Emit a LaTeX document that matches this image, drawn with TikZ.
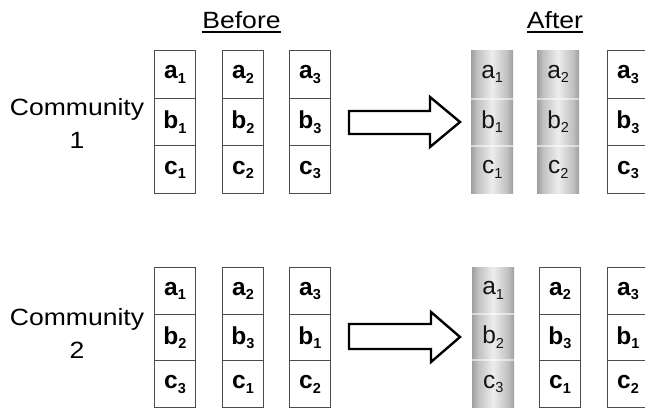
\documentclass[tikz,border=0pt]{standalone}
\usepackage{fontspec}
\setmainfont{Liberation Sans}
\newfontfamily\widefont{Liberation Sans}[FakeStretch=1.13]
\pgfdeclarehorizontalshading{cyl}{100bp}{color(0bp)=(black!32); color(14bp)=(black!58); color(32bp)=(black!25); color(50bp)=(black!7); color(68bp)=(black!25); color(86bp)=(black!58); color(100bp)=(black!32)}
\newcommand\sbs[1]{\raisebox{-4.5pt}{\fontsize{14.5}{14.5}\selectfont #1}}
\newcommand\thickul[1]{\vtop{\hbox{#1}\kern2.6pt\hrule height 1.8pt}}
\begin{document}
\begin{tikzpicture}[x=1pt,y=-1pt,
  cell/.style={draw=black!70, line width=1pt, minimum width=41pt, minimum height=#1, inner sep=0pt, anchor=north west, font=\fontsize{24.5}{24.5}\selectfont\bfseries},
  cell/.default=47.7pt,
  scell/.style={minimum width=42pt, minimum height=#1, inner sep=0pt, anchor=north west, font=\fontsize{24.5}{24.5}\selectfont, text=black!92},
  scell/.default=47.7pt,
  cyl/.style={shading=cyl},
  seam/.style={white, opacity=0.55, line width=2pt},
  title/.style={font=\widefont\fontsize{23.5}{23.5}\selectfont},
  comm/.style={font=\widefont\fontsize{23.5}{33}\selectfont, align=center},
  bigarrow/.style={draw=black, line width=2.4pt, fill=white, line join=miter}]
\useasboundingbox (0,0) rectangle (645,409);

% titles
\node[title, anchor=base] (before) at (241.5,28.3) {\thickul{Before}};
\node[title, anchor=base] (after) at (555,28.3) {\thickul{After}};

% community labels
\node[comm] (comm1) at (77,123) {Community\\1};
\node[comm] (comm2) at (77,333) {Community\\2};

% ---------- Community 1, before ----------
\node[cell] (b1a1) at (154,50) {a\sbs{1}};
\node[cell] (b1b1) at (154,97.7) {b\sbs{1}};
\node[cell] (b1c1) at (154,145.4) {c\sbs{1}};
\node[cell] (b1a2) at (222,50) {a\sbs{2}};
\node[cell] (b1b2) at (222,97.7) {b\sbs{2}};
\node[cell] (b1c2) at (222,145.4) {c\sbs{2}};
\node[cell] (b1a3) at (289,50) {a\sbs{3}};
\node[cell] (b1b3) at (289,97.7) {b\sbs{3}};
\node[cell] (b1c3) at (289,145.4) {c\sbs{3}};

% arrow 1
\draw[bigarrow] (349,111) -- (430,111) -- (430,97) -- (460,122) -- (430,147) -- (430,134) -- (349,134) -- cycle;

% ---------- Community 1, after ----------
\shade[cyl] (471,51) rectangle (513,193);
\shade[cyl] (537,51) rectangle (579,193);
\draw[seam] (471,98.7) -- (513,98.7) (471,146.4) -- (513,146.4);
\draw[seam] (537,98.7) -- (579,98.7) (537,146.4) -- (579,146.4);
\node[scell] (a1a1) at (471,50) {a\sbs{1}};
\node[scell] (a1b1) at (471,97.7) {b\sbs{1}};
\node[scell] (a1c1) at (471,145.4) {c\sbs{1}};
\node[scell] (a1a2) at (537,50) {a\sbs{2}};
\node[scell] (a1b2) at (537,97.7) {b\sbs{2}};
\node[scell] (a1c2) at (537,145.4) {c\sbs{2}};
\node[cell] (a1a3) at (607,50) {a\sbs{3}};
\node[cell] (a1b3) at (607,97.7) {b\sbs{3}};
\node[cell] (a1c3) at (607,145.4) {c\sbs{3}};

% ---------- Community 2, before ----------
\node[cell=46.7pt] (b2a1) at (154,267) {a\sbs{1}};
\node[cell=46.7pt] (b2b2) at (154,313.7) {b\sbs{2}};
\node[cell=46.7pt] (b2c3) at (154,360.4) {c\sbs{3}};
\node[cell=46.7pt] (b2a2) at (222,267) {a\sbs{2}};
\node[cell=46.7pt] (b2b3) at (222,313.7) {b\sbs{3}};
\node[cell=46.7pt] (b2c1) at (222,360.4) {c\sbs{1}};
\node[cell=46.7pt] (b2a3) at (289,267) {a\sbs{3}};
\node[cell=46.7pt] (b2b1) at (289,313.7) {b\sbs{1}};
\node[cell=46.7pt] (b2c2) at (289,360.4) {c\sbs{2}};

% arrow 2
\draw[bigarrow] (349,324) -- (431,324) -- (431,312) -- (460,337) -- (431,362) -- (431,349) -- (349,349) -- cycle;

% ---------- Community 2, after ----------
\shade[cyl] (472,267) rectangle (514,407);
\draw[seam] (472,313.7) -- (514,313.7) (472,360.4) -- (514,360.4);
\node[scell=46.7pt] (a2a1) at (472,267) {a\sbs{1}};
\node[scell=46.7pt] (a2b2) at (472,313.7) {b\sbs{2}};
\node[scell=46.7pt] (a2c3) at (472,360.4) {c\sbs{3}};
\node[cell=46.7pt] (a2a2) at (539,267) {a\sbs{2}};
\node[cell=46.7pt] (a2b3) at (539,313.7) {b\sbs{3}};
\node[cell=46.7pt] (a2c1) at (539,360.4) {c\sbs{1}};
\node[cell=46.7pt] (a2a3) at (607,267) {a\sbs{3}};
\node[cell=46.7pt] (a2b1) at (607,313.7) {b\sbs{1}};
\node[cell=46.7pt] (a2c2) at (607,360.4) {c\sbs{2}};
\end{tikzpicture}
\end{document}
